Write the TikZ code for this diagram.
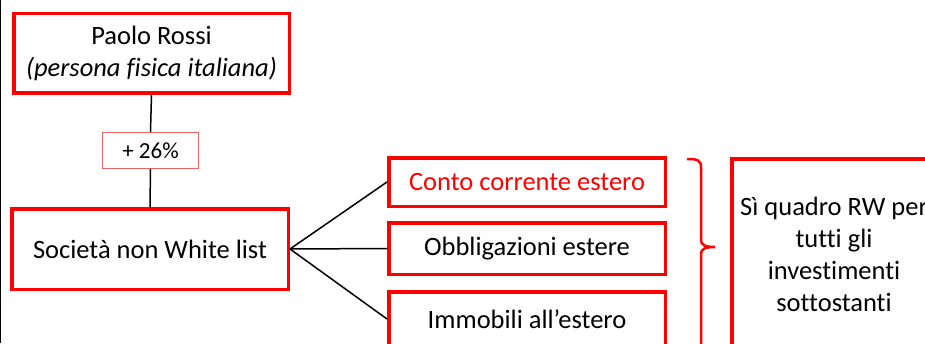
\documentclass[tikz,border=0pt]{standalone}
\usepackage{fontspec}
\setmainfont{Carlito}[Ligatures={NoCommon}]
\definecolor{boxred}{RGB}{255,0,0}
\definecolor{lightred}{RGB}{240,100,100}
\begin{document}
\begin{tikzpicture}[x=1pt,y=-1pt,
  redbox/.style={draw=boxred,line width=3.5pt,inner sep=0pt,align=center,font=\fontsize{26.5}{32}\selectfont},
  pctbox/.style={draw=lightred,line width=1pt,inner sep=0pt,font=\fontsize{23}{27}\selectfont},
  conn/.style={draw=black,line width=1.5pt}]
\useasboundingbox (0,0) rectangle (925,343);
\fill[white] (0,0) rectangle (925,343);
\draw[line width=1.3pt] (0.65,0) -- (0.65,343);
% nodes
\node[redbox,minimum width=275.5pt,minimum height=79.5pt] (paolo) at (151.5,53)
  {Paolo Rossi\\\textit{(persona fisica italiana)}};
\node[pctbox,minimum width=96pt,minimum height=36pt] (pct) at (150.5,150.5) {+ 26\%};
\node[redbox,minimum width=276.5pt,minimum height=80.5pt] (soc) at (150,249) {Società non White list};
\node[redbox,minimum width=276.5pt,minimum height=48.5pt,text=boxred] (conto) at (527,182) {Conto corrente estero};
\node[redbox,minimum width=276.5pt,minimum height=51.5pt] (obbl) at (527,248.5) {Obbligazioni estere};
\node[redbox,minimum width=276.5pt,minimum height=54.5pt] (immo) at (527,319) {Immobili all’estero};
\node[redbox,minimum width=204.5pt,minimum height=191.5pt] (rw) at (834,254.5)
  {Sì quadro RW per\\tutti gli\\investimenti\\sottostanti};
% connectors
\draw[conn] (paolo.south) -- (pct.north);
\draw[conn] (pct.south) -- (soc.north);
\draw[conn] (soc.east) -- (conto.west);
\draw[conn] (soc.east) -- (obbl.west);
\draw[conn] (soc.east) -- (immo.west);
% brace
\coordinate (btop) at (687,159);
\coordinate (btip) at (715,247);
\coordinate (bbot) at (701,360);
\draw[boxred,line width=2.5pt] (btop) .. controls (697,159) and (701,160) .. (701,167) -- (701,240)
  .. controls (701,245) and (705,247) .. (btip)
  .. controls (705,247) and (701,249) .. (701,254) -- (bbot);
\end{tikzpicture}
\end{document}
